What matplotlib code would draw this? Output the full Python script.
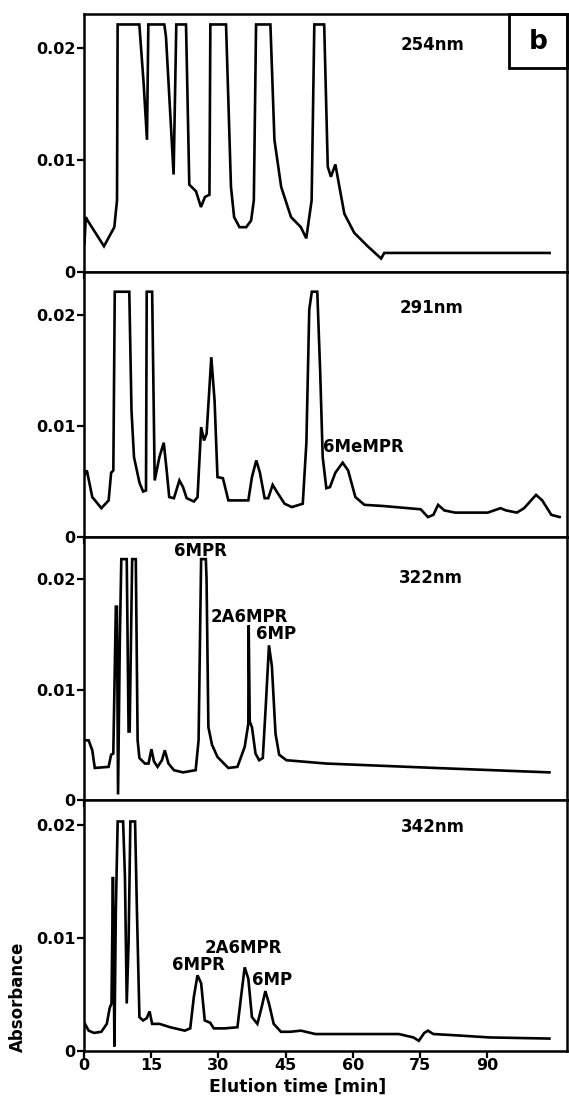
import matplotlib
matplotlib.use("Agg")
import matplotlib.pyplot as plt
from matplotlib.patches import Rectangle

# ---- data (time in min, absorbance) ----
t_254 = [0.1, 0.4, 0.8, 4.46, 6.77, 7.37, 7.51, 12.35, 13.3, 14.06, 14.36, 17.93,
         18.3, 20.0, 20.6, 22.77, 23.5, 25.0, 26.1, 27.0, 28.0, 28.2, 31.7, 32.8,
         33.5, 34.7, 36.2, 37.3, 37.9, 38.4, 41.6, 42.5, 44.0, 46.2, 48.4, 49.6,
         50.8, 51.4, 53.6, 54.4, 55.1, 56.1, 57.0, 58.1, 60.3, 63.3, 66.3, 67.0,
         103.9]
a_254 = [0.0025, 0.0049, 0.0046, 0.0023, 0.0040, 0.0064, 0.0221, 0.0221, 0.0169,
         0.0118, 0.0221, 0.0221, 0.0210, 0.0087, 0.0221, 0.0221, 0.0078, 0.0072,
         0.0058, 0.0067, 0.0069, 0.0221, 0.0221, 0.0076, 0.0049, 0.0040, 0.0040,
         0.0046, 0.0064, 0.0221, 0.0221, 0.0118, 0.0076, 0.0049, 0.0040, 0.0030,
         0.0064, 0.0221, 0.0221, 0.0094, 0.0085, 0.0096, 0.0076, 0.0052, 0.0035,
         0.0023, 0.0012, 0.0017, 0.0017]

t_291 = [0.0, 0.64, 1.85, 3.88, 5.5, 6.06, 6.55, 6.87, 10.11, 10.6, 11.16, 12.38,
         13.19, 13.84, 14.0, 15.21, 15.78, 16.83, 17.8, 18.45, 19.02, 20.07, 21.29,
         22.1, 22.91, 24.53, 25.34, 26.14, 26.79, 27.36, 28.41, 29.14, 29.79, 31.0,
         32.22, 36.67, 37.48, 38.45, 39.26, 40.31, 41.12, 42.1, 43.15, 44.77, 46.39,
         48.82, 49.63, 50.27, 50.84, 52.06, 52.7, 53.27, 54.08, 54.89, 56.1, 57.72,
         58.94, 60.56, 62.58, 66.63, 75.13, 76.75, 77.97, 79.02, 80.4, 82.82, 90.1,
         92.95, 94.16, 96.59, 98.21, 100.88, 102.26, 104.28, 106.14]
a_291 = [0.0055, 0.0060, 0.0036, 0.0026, 0.0033, 0.0058, 0.0060, 0.0221, 0.0221,
         0.0114, 0.0072, 0.0049, 0.0041, 0.0042, 0.0221, 0.0221, 0.0051, 0.0072,
         0.0085, 0.0060, 0.0036, 0.0035, 0.0051, 0.0045, 0.0035, 0.0032, 0.0036,
         0.0099, 0.0087, 0.0093, 0.0162, 0.0123, 0.0054, 0.0053, 0.0033, 0.0033,
         0.0054, 0.0069, 0.0058, 0.0035, 0.0035, 0.0047, 0.0040, 0.0030, 0.0027,
         0.0030, 0.0085, 0.0205, 0.0221, 0.0221, 0.0150, 0.0072, 0.0044, 0.0045,
         0.0058, 0.0067, 0.0060, 0.0036, 0.0029, 0.0028, 0.0025, 0.0018, 0.0020,
         0.0029, 0.0024, 0.0022, 0.0022, 0.0026, 0.0024, 0.0022, 0.0026, 0.0038,
         0.0033, 0.0020, 0.0018]

t_322 = [0.23, 1.04, 1.85, 2.41, 5.49, 6.06, 6.54, 7.11, 7.35, 7.6, 8.0, 8.33, 9.54,
         9.95, 10.19, 10.75, 11.56, 11.97, 12.37, 13.59, 14.4, 15.05, 15.61, 16.42,
         17.39, 18.04, 18.85, 20.07, 22.09, 24.92, 25.57, 26.14, 27.19, 27.35, 27.76,
         28.57, 29.78, 32.21, 34.24, 35.86, 36.67, 36.75, 36.99, 37.48, 38.28, 39.09,
         39.9, 40.55, 41.28, 41.93, 42.74, 43.55, 45.17, 54.08, 78.37, 103.87]
a_322 = [0.0054, 0.0054, 0.0045, 0.0029, 0.0030, 0.0041, 0.0042, 0.0175, 0.0175,
         0.0005, 0.0145, 0.0218, 0.0218, 0.0062, 0.0062, 0.0218, 0.0218, 0.0054,
         0.0038, 0.0033, 0.0033, 0.0046, 0.0035, 0.0030, 0.0036, 0.0045, 0.0033,
         0.0027, 0.0025, 0.0027, 0.0054, 0.0218, 0.0218, 0.0200, 0.0066, 0.0050,
         0.0039, 0.0029, 0.0030, 0.0048, 0.0069, 0.0158, 0.0071, 0.0066, 0.0042,
         0.0036, 0.0038, 0.0084, 0.0140, 0.0121, 0.0060, 0.0041, 0.0036, 0.0033,
         0.0029, 0.0025]

t_342 = [0.23, 1.04, 2.25, 3.87, 5.09, 5.73, 6.14, 6.46, 6.79, 7.11, 7.52, 8.73,
         9.14, 9.54, 9.95, 10.35, 11.4, 11.81, 12.37, 13.18, 13.99, 14.64, 15.21,
         16.83, 19.26, 22.5, 23.71, 24.52, 25.33, 26.14, 26.95, 28.16, 28.97, 31.4,
         34.24, 35.05, 35.86, 36.67, 37.48, 38.69, 39.66, 40.47, 41.28, 42.33, 43.95,
         45.98, 48.41, 51.64, 62.17, 70.27, 73.51, 74.72, 75.94, 76.75, 77.96, 82.43,
         90.5, 103.87]
a_342 = [0.0024, 0.0018, 0.0016, 0.0017, 0.0024, 0.0038, 0.0042, 0.0154, 0.0004,
         0.0125, 0.0203, 0.0203, 0.0154, 0.0042, 0.0095, 0.0203, 0.0203, 0.0125,
         0.0030, 0.0027, 0.0029, 0.0035, 0.0024, 0.0024, 0.0021, 0.0018, 0.0020,
         0.0048, 0.0067, 0.0060, 0.0027, 0.0025, 0.0020, 0.0020, 0.0021, 0.0048,
         0.0074, 0.0064, 0.0030, 0.0024, 0.0039, 0.0053, 0.0042, 0.0024, 0.0017,
         0.0017, 0.0018, 0.0015, 0.0015, 0.0015, 0.0012, 0.0009, 0.0016, 0.0018,
         0.0015, 0.0014, 0.0012, 0.0011]

wavelengths = ["254nm", "291nm", "322nm", "342nm"]
x_ticks = [0, 15, 30, 45, 60, 75, 90]
y_ticks = [0, 0.01, 0.02]
y_tick_labels = ["0", "0.01", "0.02"]

# peak labels: (panel, text, time, absorbance, ha)
peak_labels = [
    (1, "6MeMPR", 53.3, 0.0081, "left"),
    (2, "6MPR", 25.9, 0.0225, "center"),
    (2, "2A6MPR", 28.2, 0.0166, "left"),
    (2, "6MP", 38.3, 0.0150, "left"),
    (3, "6MPR", 25.6, 0.0076, "center"),
    (3, "2A6MPR", 35.5, 0.0091, "center"),
    (3, "6MP", 37.5, 0.0063, "left"),
]

# ---- layout ----
plt.rcParams["font.family"] = "DejaVu Sans"
plt.rcParams["font.weight"] = "bold"
fig = plt.figure(figsize=(5.69, 10.98), dpi=100)

traces = [(t_254, a_254), (t_291, a_291), (t_322, a_322), (t_342, a_342)]
rects = [(0.1476, 0.7523, 0.849, 0.2350),
         (0.1476, 0.5109, 0.849, 0.2413),
         (0.1476, 0.2714, 0.849, 0.2395),
         (0.1476, 0.0428, 0.849, 0.2286)]
ytops = [0.02304, 0.02387, 0.0238, 0.0222]
label_pos = [(0.721, 0.88), (0.719, 0.864), (0.719, 0.844), (0.723, 0.892)]

axes = []
for i, (t, a) in enumerate(traces):
    ax = fig.add_axes(rects[i])
    ax.plot(t, a, color="black", lw=1.9, solid_joinstyle="miter")
    ax.set_xlim(0, 107.8)
    ax.set_ylim(0, ytops[i])
    ax.set_xticks(x_ticks)
    ax.set_yticks(y_ticks)
    ax.set_yticklabels(y_tick_labels)
    ax.tick_params(direction="out", length=5, width=1.6, labelsize=11.5, pad=1)
    ax.tick_params(axis="x", pad=0)
    if i < 3:
        ax.set_xticklabels([])
    for s in ax.spines.values():
        s.set_linewidth(1.8)
    ax.text(label_pos[i][0], label_pos[i][1], wavelengths[i], transform=ax.transAxes,
            ha="center", va="center", fontsize=12, fontweight="bold")
    axes.append(ax)

for p, txt, tx, ay, ha in peak_labels:
    axes[p].text(tx, ay, txt, ha=ha, va="center", fontsize=12, fontweight="bold")

# panel letter box
axes[0].add_patch(Rectangle((0.88, 0.791), 0.12, 0.209, transform=axes[0].transAxes,
                            fill=False, lw=2.0, clip_on=False))
axes[0].text(0.94, 0.893, "b", transform=axes[0].transAxes, ha="center", va="center",
             fontsize=19, fontweight="bold")

fig.text(0.032, 1 - 997 / 1098, "Absorbance", rotation=90, ha="center", va="center",
         fontsize=12, fontweight="bold")
fig.text(298 / 569, 1 - 1096 / 1098, "Elution time [min]", ha="center", va="bottom",
         fontsize=12.5, fontweight="bold")

fig.savefig("out.png", dpi=100)
